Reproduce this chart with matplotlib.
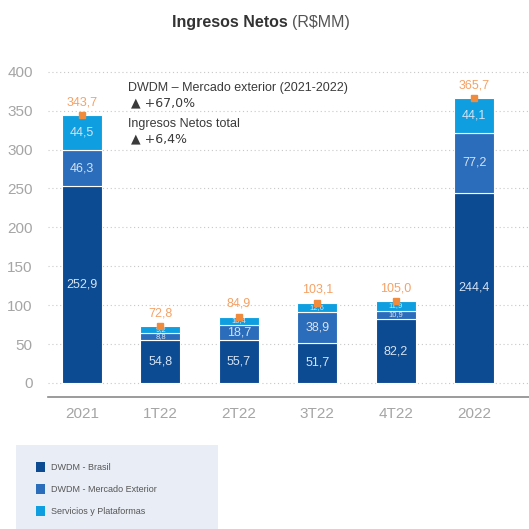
import matplotlib
matplotlib.use("Agg")
import matplotlib.pyplot as plt
from matplotlib.patches import Rectangle, Patch
import numpy as np

plt.rcParams['font.family'] = ['Liberation Sans', 'DejaVu Sans']

categories = ["2021", "1T22", "2T22", "3T22", "4T22", "2022"]
brasil = [252.9, 54.8, 55.7, 51.7, 82.2, 244.4]
exterior = [46.3, 8.8, 18.7, 38.9, 10.9, 77.2]
servicios = [44.5, 9.2, 10.4, 12.6, 11.9, 44.1]
totals = [343.7, 72.8, 84.9, 103.1, 105.0, 365.7]
brasil_lbl = ["252,9", "54,8", "55,7", "51,7", "82,2", "244,4"]
exterior_lbl = ["46,3", "8,8", "18,7", "38,9", "10,9", "77,2"]
servicios_lbl = ["44,5", "9,2", "10,4", "12,6", "11,9", "44,1"]
totals_lbl = ["343,7", "72,8", "84,9", "103,1", "105,0", "365,7"]
yticks = [0, 50, 100, 150, 200, 250, 300, 350, 400]
series_names = ["DWDM - Brasil", "DWDM - Mercado Exterior", "Servicios y Plataformas"]

c_dark = "#0c4a92"
c_mid = "#2b6cbb"
c_light = "#0f9fe0"
c_orange = "#f5a266"
c_marker = "#f08a3c"
lbl_col = "#d5e3f2"

fig = plt.figure(figsize=(5.29, 5.29), dpi=100)
fig.patch.set_facecolor("white")
ax = fig.add_axes([48/529, 1-397/529, 481/529, (397-60)/529])

x = np.arange(len(categories))
w = 0.51
ax.bar(x, brasil, w, color=c_dark, edgecolor="white", linewidth=0.8, zorder=3)
ax.bar(x, exterior, w, bottom=brasil, color=c_mid, edgecolor="white", linewidth=0.8, zorder=3)
bot3 = np.array(brasil) + np.array(exterior)
ax.bar(x, servicios, w, bottom=bot3, color=c_light, edgecolor="white", linewidth=0.8, zorder=3)

for i in range(len(categories)):
    big = i in (0, 5)
    ax.text(x[i], brasil[i]/2, brasil_lbl[i], ha="center", va="center", color=lbl_col, fontsize=9, zorder=4)
    fs2 = 9 if (exterior[i] > 15) else 5.5
    ax.text(x[i], brasil[i] + exterior[i]/2, exterior_lbl[i], ha="center", va="center", color=lbl_col, fontsize=fs2, zorder=4)
    fs3 = 9 if big else 5.5
    ax.text(x[i], bot3[i] + servicios[i]/2, servicios_lbl[i], ha="center", va="center", color=lbl_col, fontsize=fs3, zorder=4)
    top = bot3[i] + servicios[i]
    ax.plot([x[i]], [top], marker="s", markersize=4, color=c_marker, zorder=5, linestyle="none")
    ax.text(x[i], top + 9, totals_lbl[i], ha="center", va="bottom", color=c_orange, fontsize=9, zorder=5)

ax.set_xlim(-0.434, 5.70)
ax.set_ylim(-18, 415)
ax.set_yticks(yticks)
ax.set_yticklabels([str(v) for v in yticks], color="#a5a5a5", fontsize=11)
ax.set_xticks(x)
ax.set_xticklabels(categories, color="#a5a5a5", fontsize=11)
ax.tick_params(axis="both", length=0)
ax.tick_params(axis="y", pad=11)
ax.tick_params(axis="x", pad=7)
for yv in yticks:
    ax.axhline(yv, color="#c8c8c8", linestyle=(0, (1, 2.5)), linewidth=0.8, zorder=1)
for s in ["top", "right", "left"]:
    ax.spines[s].set_visible(False)
ax.spines["bottom"].set_color("#8a8a8a")
ax.spines["bottom"].set_linewidth(1.2)

# annotations
tcol = "#3a3a3a"
fig.text(128/529, 1-88/529, "DWDM – Mercado exterior (2021-2022)", fontsize=9, color=tcol, va="center")
fig.text(131/529, 1-103/529, "▲ +67,0%", fontsize=9, color=tcol, va="center", family=["DejaVu Sans"])
fig.text(128/529, 1-124/529, "Ingresos Netos total", fontsize=9, color=tcol, va="center")
fig.text(131/529, 1-139/529, "▲ +6,4%", fontsize=9, color=tcol, va="center", family=["DejaVu Sans"])

# title
fig.text(292/529, 1-22/529, "Ingresos Netos ", fontsize=11.5, fontweight="bold", color="#333333", ha="right", va="center")
fig.text(292/529, 1-22/529, "(R$MM)", fontsize=11.5, color="#555555", ha="left", va="center")

# legend box
fig.patches.append(Rectangle((16/529, 0), (218-16)/529, (529-445)/529, transform=fig.transFigure,
                             facecolor="#e9eef6", edgecolor="none", zorder=0))
handles = [Patch(facecolor=c, edgecolor="none") for c in (c_dark, c_mid, c_light)]
fig.legend(handles, series_names, loc="upper left", bbox_to_anchor=(28/529, 1-454/529),
           frameon=False, fontsize=6.5, handlelength=1.0, handleheight=1.3,
           labelspacing=1.35, handletextpad=0.6, labelcolor="#555555")

fig.savefig("out.png", dpi=100)
